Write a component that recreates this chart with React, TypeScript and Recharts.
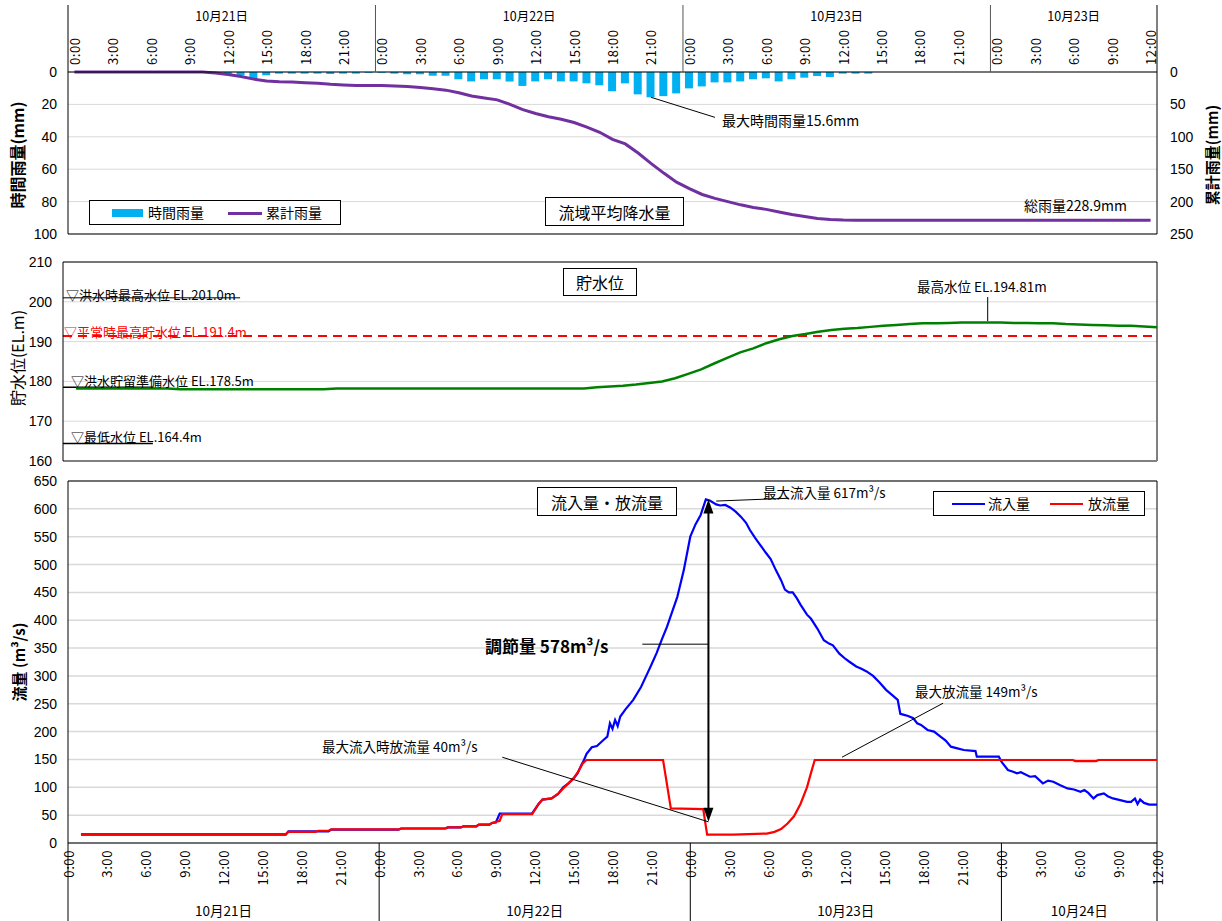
import React from "react";
import {
  ComposedChart,
  LineChart,
  Bar,
  Line,
  XAxis,
  YAxis,
  CartesianGrid,
  ReferenceLine,
} from "recharts";

const JP = '"Noto Sans CJK JP", "Noto Sans", sans-serif';
const NUM = '"Liberation Sans", Arial, sans-serif';

// ---------- 流域平均降水量 (hourly, 10/21 0:00 - 10/24 12:00) ----------
const rainHours = Array.from({ length: 85 }, (_, i) => i);
const hourlyRain = [
  0, 0, 0, 0, 0, 0, 0, 0, 0, 0, 0, 0.3,
  1.5, 2.0, 4.3, 2.0, 1.0, 1.0, 1.0, 1.0, 1.2, 1.0, 1.0, 0.5,
  0.5, 1.0, 1.4, 1.4, 2.3, 2.3, 4.5, 5.8, 4.5, 4.5, 5.8, 8.6,
  5.8, 4.5, 5.8, 5.8, 7.0, 8.2, 11.9, 7.0, 13.8, 15.6, 14.9, 13.2,
  10.1, 8.9, 6.4, 6.4, 5.8, 4.5, 3.9, 5.8, 4.5, 3.5, 2.5, 3.1,
  1.0, 1.0, 1.0, 0, 0, 0, 0, 0, 0, 0, 0, 0,
  0, 0, 0, 0, 0, 0, 0, 0, 0, 0, 0, 0, 0,
];
const cumulativeRain = [
  0, 0, 0, 0, 0, 0, 0, 0, 0, 0, 0, 1.5,
  4, 7, 11, 14, 15, 15.5, 16.5, 17.5, 19, 20, 21, 21,
  21, 21.5, 22.5, 24, 26, 28, 32, 37, 40, 43, 50, 58,
  64, 69, 73, 78, 85, 93, 104, 111, 125, 141, 156, 170,
  180, 189, 195, 200, 205, 209, 212, 216, 220, 223, 226, 227.5,
  228.3, 228.6, 228.9, 228.9, 228.9, 228.9, 228.9, 228.9, 228.9, 228.9, 228.9, 228.9,
  228.9, 228.9, 228.9, 228.9, 228.9, 228.9, 228.9, 228.9, 228.9, 228.9, 228.9, 228.9, 228.9,
];
const rainDays = [
  { label: "10月21日", start: 0, end: 24 },
  { label: "10月22日", start: 24, end: 48 },
  { label: "10月23日", start: 48, end: 72 },
  { label: "10月23日", start: 72, end: 85 },
];

// ---------- 貯水位 ----------
const levelHours = Array.from({ length: 84 }, (_, i) => i + 1);
const levelValues = [
  178.2, 178.2, 178.2, 178.2, 178.2, 178.2, 178.2, 178.2,
  178.0, 178.0, 178.0, 178.0, 178.0, 178.0, 178.0, 178.0, 178.0, 178.0, 178.0, 178.0,
  178.2, 178.2, 178.2, 178.2, 178.2, 178.2, 178.2, 178.2, 178.2, 178.2,
  178.2, 178.2, 178.2, 178.2, 178.2, 178.2, 178.2, 178.2, 178.2, 178.2,
  178.5, 178.7, 178.9, 179.2, 179.6, 180.0, 180.8, 181.9, 183.0, 184.5,
  185.9, 187.3, 188.3, 189.6, 190.6, 191.4, 191.9, 192.5, 192.9, 193.2,
  193.4, 193.7, 194.0, 194.2, 194.4, 194.6, 194.6, 194.7, 194.8, 194.8,
  194.81, 194.8, 194.7, 194.7, 194.6, 194.6, 194.4, 194.3, 194.2, 194.1,
  194.0, 194.0, 193.8, 193.6,
];

// ---------- 流入量・放流量 ----------
const inflowHours = [
  1, 16.8, 17, 20.1, 20.3, 25.5, 25.7, 29.1, 29.3, 30.3, 30.5, 31.5, 31.7, 32.5, 32.7, 33, 33.3, 35.8,
  36.3, 36.6, 37.3, 37.8, 38.2, 38.6, 39, 39.3, 39.6, 39.8, 40, 40.4, 40.8, 41.3, 41.6, 41.8, 42, 42.2,
  42.4, 42.6, 43, 43.6, 44.2, 44.7, 45, 45.4, 45.8, 46.2, 46.6, 47, 47.5, 48, 48.4, 48.8, 49.2, 49.5,
  50, 50.3, 50.7, 51.1, 51.5, 51.9, 52.3, 52.6, 53, 53.4, 53.8, 54.2, 54.6, 55, 55.3, 55.6, 55.9, 56.2,
  56.5, 57, 57.3, 57.8, 58.3, 58.7, 59, 59.5, 60, 60.3, 60.8, 61.2, 61.6, 62.1, 62.6, 63.1, 63.6, 64,
  64.2, 64.5, 64.8, 65.2, 65.5, 65.8, 66.3, 66.8, 67.3, 67.7, 68.1, 68.6, 69.1, 70, 70.1, 71.8, 72,
  72.5, 72.9, 73.2, 73.5, 74.2, 74.6, 75.2, 75.6, 76, 76.5, 77.1, 77.6, 78.1, 78.4, 78.7, 79.1, 79.4,
  79.9, 80.2, 80.6, 81, 81.7, 82, 82.3, 82.5, 82.7, 83, 83.4, 84,
];
const inflowValues = [
  15, 15, 21, 21, 24, 24, 26, 26, 28, 28, 30, 30, 33, 33, 36, 37, 53, 53,
  70, 78, 80, 88, 100, 107, 116, 125, 140, 149, 160, 172, 174, 185, 191, 215, 205, 221,
  210, 227, 240, 257, 280, 305, 320, 341, 365, 388, 415, 442, 490, 550, 572, 589, 617, 615,
  608, 606, 607, 602, 595, 586, 575, 562, 548, 535, 522, 510, 490, 472, 455, 450, 450, 440,
  428, 410, 403, 385, 364, 358, 355, 340, 330, 325, 317, 313, 308, 300, 288, 275, 265, 257,
  232, 230, 228, 224, 215, 212, 203, 200, 191, 184, 173, 170, 167, 165, 155, 155, 146,
  131, 128, 125, 127, 119, 120, 107, 112, 110, 104, 98, 96, 92, 95, 90, 80, 86,
  89, 84, 80, 78, 74, 74, 80, 70, 78, 72, 69, 69,
];
const outflowHours = [
  1, 16.8, 17, 19.1, 19.3, 20.1, 20.3, 25.5, 25.7, 29.1, 29.3, 30.3, 30.5, 31.5, 31.7, 32.5, 32.7, 33.3,
  33.5, 35.8, 36.3, 36.6, 37.3, 37.8, 38.2, 38.6, 39, 39.4, 39.7, 40, 45.9, 46.5, 49, 49.1, 49.3, 51.3,
  53.9, 54.5, 55, 55.5, 56, 56.5, 57, 57.3, 57.6, 77.5, 77.7, 79.3, 79.5, 84,
];
const outflowValues = [
  16, 16, 20, 20, 22, 22, 24.5, 24.5, 26, 26, 28, 28, 30, 30, 33, 33, 36, 40,
  52, 52, 70, 78, 80, 88, 98, 107, 116, 130, 143, 149, 149, 62, 61, 45, 15, 15,
  17, 20, 25, 35, 48, 70, 100, 125, 149, 149, 147, 147, 149, 149,
];
const flowTicks = [0, 3, 6, 9, 12, 15, 18, 21, 24, 27, 30, 33, 36, 39, 42, 45, 48, 51, 54, 57, 60, 63, 66, 69, 72, 75, 78, 81, 84];
const flowDays = [
  { label: "10月21日", start: 0, end: 24 },
  { label: "10月22日", start: 24, end: 48 },
  { label: "10月23日", start: 48, end: 72 },
  { label: "10月24日", start: 72, end: 84 },
];

// layout
const W = 1222;
const PLOT_L = 68;
const PLOT_R = 1157;
const RAIN_AXIS_Y = 72;
const RAIN_BAND = (PLOT_R - PLOT_L) / rainHours.length;
const FLOW_H = 451;
const FLOW_AXIS_Y = 373;
const FLOW_PX = (PLOT_R - PLOT_L) / 84;

function RainTick(props: any) {
  const { x, payload } = props;
  const h: number = payload.value;
  const day = rainDays.find((d) => d.start === h);
  return (
    <g>
      <g transform={`translate(${x},${RAIN_AXIS_Y - 7}) rotate(-90)`}>
        <text x={0} y={0} textAnchor="start" dominantBaseline="central" fontSize={13} letterSpacing={0.6} fontFamily={JP} fill="#000">
          {`${h % 24}:00`}
        </text>
      </g>
      {h % 24 === 0 && (
        <line x1={x - RAIN_BAND / 2} x2={x - RAIN_BAND / 2} y1={5} y2={RAIN_AXIS_Y} stroke={h === 0 ? "#000" : "#555"} />
      )}
      {h === 84 && <line x1={x + RAIN_BAND / 2} x2={x + RAIN_BAND / 2} y1={5} y2={RAIN_AXIS_Y} stroke="#000" />}
      {day && (
        <text
          x={x + ((day.start + day.end) / 2 - 0.5 - h) * RAIN_BAND}
          y={15}
          textAnchor="middle"
          dominantBaseline="central"
          fontSize={12.5}
          fontFamily={JP}
          fill="#000"
        >
          {day.label}
        </text>
      )}
    </g>
  );
}

function FlowTick(props: any) {
  const { x, payload } = props;
  const h: number = payload.value;
  const day = flowDays.find((d) => d.start === h);
  return (
    <g>
      <g transform={`translate(${x},${FLOW_AXIS_Y + 7}) rotate(-90)`}>
        <text x={0} y={0} textAnchor="end" dominantBaseline="central" fontSize={13} letterSpacing={0.6} fontFamily={JP} fill="#000">
          {`${h % 24}:00`}
        </text>
      </g>
      {(h % 24 === 0 || h === 84) && <line x1={x} x2={x} y1={FLOW_AXIS_Y} y2={FLOW_H} stroke="#000" />}
      {day && (
        <text
          x={x + ((day.start + day.end) / 2 - h) * FLOW_PX}
          y={FLOW_AXIS_Y + 67}
          textAnchor="middle"
          dominantBaseline="central"
          fontSize={13.5}
          fontFamily={JP}
          fill="#000"
        >
          {day.label}
        </text>
      )}
    </g>
  );
}

function DoubleArrow(p: any) {
  const { x1, y1, x2, y2 } = p;
  return (
    <g>
      <line x1={x1} y1={y1 + 12} x2={x2} y2={y2 - 12} stroke="#000" strokeWidth={2} />
      <polygon points={`${x1},${y1} ${x1 - 5},${y1 + 14} ${x1 + 5},${y1 + 14}`} fill="#000" />
      <polygon points={`${x2},${y2} ${x2 - 5},${y2 - 14} ${x2 + 5},${y2 - 14}`} fill="#000" />
    </g>
  );
}

function Txt({ x, y, size = 13.5, color = "#000", weight = 400, children }: any) {
  return (
    <div
      style={{
        position: "absolute",
        left: x,
        top: y,
        transform: "translateY(-50%)",
        fontSize: size,
        color,
        fontWeight: weight,
        lineHeight: 1,
        whiteSpace: "nowrap",
      }}
    >
      {children}
    </div>
  );
}

function VTxt({ x, y, size = 16, weight = 700, children }: any) {
  return (
    <div
      style={{
        position: "absolute",
        left: x,
        top: y,
        transform: "translate(-50%,-50%) rotate(-90deg)",
        fontSize: size,
        fontWeight: weight,
        lineHeight: 1,
        whiteSpace: "nowrap",
        color: "#000",
      }}
    >
      {children}
    </div>
  );
}

function Box({ x, y, w, h, size = 16, children }: any) {
  return (
    <div
      style={{
        position: "absolute",
        left: x,
        top: y,
        width: w,
        height: h,
        boxSizing: "border-box",
        border: "1.5px solid #000",
        background: "#fff",
        display: "flex",
        alignItems: "center",
        justifyContent: "center",
        fontSize: size,
        whiteSpace: "nowrap",
      }}
    >
      {children}
    </div>
  );
}

const numTick = { fontSize: 14, fill: "#000", fontFamily: NUM };

export default function App() {
  const rainTable = rainHours.map((h, i) => ({ hour: h, rain: hourlyRain[i], cum: cumulativeRain[i] }));
  const levelTable = levelHours.map((t, i) => ({ t, level: levelValues[i] }));
  const inflowData = inflowHours.map((t, i) => ({ t, q: inflowValues[i] }));
  const outflowData = outflowHours.map((t, i) => ({ t, q: outflowValues[i] }));

  return (
    <div
      style={{
        position: "absolute",
        left: 0,
        top: 0,
        width: W,
        height: 921,
        background: "#fff",
        fontFamily: JP,
        overflow: "hidden",
      }}
    >
      {/* ---- rainfall ---- */}
      <div style={{ position: "absolute", left: 0, top: 0 }}>
        <ComposedChart width={W} height={242} data={rainTable} margin={{ top: 8, right: 25, bottom: 8, left: 28 }}>
          <CartesianGrid yAxisId="l" vertical={false} stroke="#d9d9d9" />
          <XAxis
            dataKey="hour"
            orientation="top"
            height={64}
            interval={2}
            tickLine={false}
            axisLine={{ stroke: "#000" }}
            tick={(p: any) => <RainTick {...p} />}
          />
          <YAxis
            yAxisId="l"
            reversed
            domain={[0, 100]}
            ticks={[0, 20, 40, 60, 80, 100]}
            width={40}
            tickLine={false}
            tickMargin={5}
            axisLine={{ stroke: "#000" }}
            tick={numTick}
          />
          <YAxis
            yAxisId="r"
            orientation="right"
            reversed
            domain={[0, 250]}
            ticks={[0, 50, 100, 150, 200, 250]}
            width={40}
            tickLine={false}
            tickMargin={7}
            axisLine={{ stroke: "#000" }}
            tick={numTick}
          />
          <ReferenceLine yAxisId="l" y={100} stroke="#000" />
          <Bar yAxisId="l" dataKey="rain" fill="#00b0f0" barSize={8} isAnimationActive={false} />
          <Line
            yAxisId="r"
            dataKey="cum"
            type="linear"
            stroke="#7030a0"
            strokeWidth={3}
            dot={false}
            isAnimationActive={false}
          />
          <ReferenceLine yAxisId="l" segment={[{ x: 45, y: 15.6 }, { x: 50, y: 28 }]} stroke="#000" />
        </ComposedChart>
      </div>
      <VTxt x={17} y={155}>時間雨量(mm)</VTxt>
      <VTxt x={1211} y={155} size={15}>累計雨量(mm)</VTxt>
      <Box x={545} y={197} w={139} h={29}>流域平均降水量</Box>
      <div
        style={{
          position: "absolute",
          left: 89,
          top: 200,
          width: 252,
          height: 25,
          boxSizing: "border-box",
          border: "1.5px solid #000",
          background: "#fff",
          fontSize: 14,
        }}
      >
        <div style={{ position: "absolute", left: 22, top: 8, width: 31, height: 8, background: "#00b0f0" }} />
        <div style={{ position: "absolute", left: 58, top: 3, lineHeight: 1.2 }}>時間雨量</div>
        <div style={{ position: "absolute", left: 138, top: 10.5, width: 34, height: 3, background: "#7030a0" }} />
        <div style={{ position: "absolute", left: 176, top: 3, lineHeight: 1.2 }}>累計雨量</div>
      </div>
      <Txt x={722} y={120} size={14}>最大時間雨量15.6mm</Txt>
      <Txt x={1024} y={205} size={14}>総雨量228.9mm</Txt>

      {/* ---- reservoir level ---- */}
      <div style={{ position: "absolute", left: 0, top: 250 }}>
        <LineChart width={W} height={220} data={levelTable} margin={{ top: 12, right: 65, bottom: 9, left: 23 }}>
          <CartesianGrid vertical={false} stroke="#d9d9d9" />
          <XAxis dataKey="t" type="number" domain={[0, 84]} hide />
          <YAxis
            domain={[160, 210]}
            ticks={[160, 170, 180, 190, 200, 210]}
            width={40}
            tickLine={false}
            tickMargin={5}
            axisLine={{ stroke: "#000" }}
            tick={numTick}
          />
          <ReferenceLine y={210} stroke="#000" />
          <ReferenceLine x={84} stroke="#000" />
          <ReferenceLine y={160} stroke="#808080" strokeWidth={2} />
          <ReferenceLine segment={[{ x: 0, y: 201 }, { x: 13.6, y: 201 }]} stroke="#000" />
          <ReferenceLine y={191.4} stroke="#ff0000" strokeWidth={2} strokeDasharray="9 6" />
          <ReferenceLine segment={[{ x: 0, y: 178.5 }, { x: 6.9, y: 178.5 }]} stroke="#000" strokeWidth={1.5} />
          <ReferenceLine segment={[{ x: 0, y: 164.4 }, { x: 6.9, y: 164.4 }]} stroke="#000" strokeWidth={1.5} />
          <ReferenceLine segment={[{ x: 71, y: 195.1 }, { x: 71, y: 201.2 }]} stroke="#000" />
          <Line dataKey="level" type="linear" stroke="#008000" strokeWidth={2.5} dot={false} isAnimationActive={false} />
        </LineChart>
      </div>
      <VTxt x={17} y={358} weight={400}>貯水位(EL.m)</VTxt>
      <Box x={563} y={268} w={74} h={28}>貯水位</Box>
      <Txt x={66} y={294} size={13}>▽洪水時最高水位 EL.201.0m</Txt>
      <Txt x={64} y={331} size={13} color="#ff0000">▽平常時最高貯水位 EL.191.4m</Txt>
      <Txt x={71} y={380} size={13}>▽洪水貯留準備水位 EL.178.5m</Txt>
      <Txt x={71} y={436} size={13}>▽最低水位 EL.164.4m</Txt>
      <Txt x={917} y={287} size={13.5}>最高水位 EL.194.81m</Txt>

      {/* ---- inflow / outflow ---- */}
      <div style={{ position: "absolute", left: 0, top: 470 }}>
        <LineChart width={W} height={FLOW_H} margin={{ top: 11, right: 65, bottom: 0, left: 28 }}>
          <CartesianGrid vertical={false} stroke="#d9d9d9" strokeWidth={1.5} />
          <XAxis
            dataKey="t"
            type="number"
            domain={[0, 84]}
            ticks={flowTicks}
            interval={0}
            height={78}
            tickLine={false}
            axisLine={{ stroke: "#000" }}
            tick={(p: any) => <FlowTick {...p} />}
          />
          <YAxis
            domain={[0, 650]}
            ticks={[0, 50, 100, 150, 200, 250, 300, 350, 400, 450, 500, 550, 600, 650]}
            width={40}
            tickLine={false}
            tickMargin={5}
            axisLine={{ stroke: "#000" }}
            tick={numTick}
          />
          <ReferenceLine y={650} stroke="#000" />
          <ReferenceLine x={84} stroke="#000" />
          <Line
            data={inflowData}
            dataKey="q"
            name="流入量"
            type="linear"
            stroke="#0000ff"
            strokeWidth={2.2}
            dot={false}
            isAnimationActive={false}
          />
          <Line
            data={outflowData}
            dataKey="q"
            name="放流量"
            type="linear"
            stroke="#ff0000"
            strokeWidth={2.2}
            dot={false}
            isAnimationActive={false}
          />
          <ReferenceLine segment={[{ x: 50.0, y: 614 }, { x: 55.6, y: 619 }]} stroke="#000" />
          <ReferenceLine segment={[{ x: 44.3, y: 357 }, { x: 49.4, y: 357 }]} stroke="#000" />
          <ReferenceLine segment={[{ x: 33.5, y: 154 }, { x: 49.4, y: 38 }]} stroke="#000" />
          <ReferenceLine segment={[{ x: 67.5, y: 251 }, { x: 59.7, y: 154 }]} stroke="#000" />
          <ReferenceLine
            segment={[{ x: 49.4, y: 617 }, { x: 49.4, y: 38 }]}
            shape={(p: any) => <DoubleArrow {...p} />}
          />
        </LineChart>
      </div>
      <VTxt x={18} y={662} size={15}>流量 (m³/s)</VTxt>
      <Box x={537} y={487} w={140} h={29}>流入量・放流量</Box>
      <div
        style={{
          position: "absolute",
          left: 933,
          top: 491,
          width: 212,
          height: 25,
          boxSizing: "border-box",
          border: "1.5px solid #000",
          background: "#fff",
          fontSize: 14,
        }}
      >
        <div style={{ position: "absolute", left: 18, top: 10.5, width: 33, height: 2.5, background: "#0000ff" }} />
        <div style={{ position: "absolute", left: 54, top: 3, lineHeight: 1.2 }}>流入量</div>
        <div style={{ position: "absolute", left: 116, top: 10.5, width: 33, height: 2.5, background: "#ff0000" }} />
        <div style={{ position: "absolute", left: 154, top: 3, lineHeight: 1.2 }}>放流量</div>
      </div>
      <Txt x={763} y={493} size={13.5}>最大流入量 617m³/s</Txt>
      <Txt x={485} y={645} size={17} weight={700}>調節量 578m³/s</Txt>
      <Txt x={322} y={747} size={13.5}>最大流入時放流量 40m³/s</Txt>
      <Txt x={915} y={692} size={13.5}>最大放流量 149m³/s</Txt>
    </div>
  );
}
